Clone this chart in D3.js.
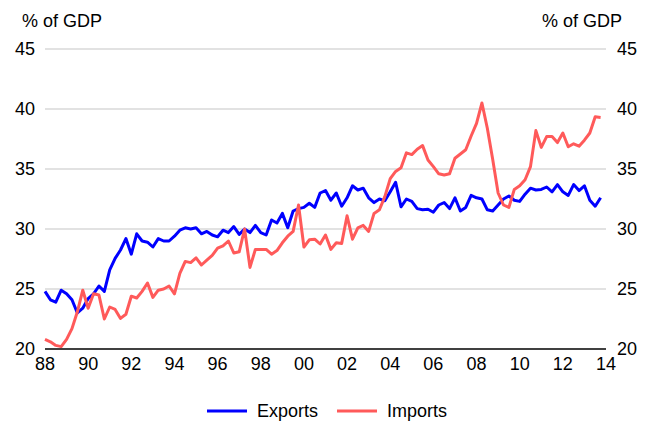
<!DOCTYPE html>
<html><head><meta charset="utf-8">
<script src="https://cdn.jsdelivr.net/npm/d3@7"></script>
<style>html,body{margin:0;padding:0;background:#fff;}svg{display:block;font-family:"Liberation Sans",Arial,sans-serif;}</style>
</head><body><svg id="c" width="657" height="422"></svg>
<script>
const startYear = 1988;
const exportsData = [24.8,24.1,23.9,24.9, 24.6,24.1,23.0,23.4, 24.2,24.6,25.25,24.8, 26.6,27.55,28.25,29.2,
 27.9,29.6,29.0,28.9, 28.5,29.2,29.0,29.0, 29.4,29.9,30.1,30.0, 30.1,29.6,29.8,29.5,
 29.35,29.9,29.7,30.2, 29.55,30.0,29.7,30.3, 29.7,29.5,30.75,30.5, 31.3,30.1,31.5,31.7,
 31.8,32.15,31.8,33.0, 33.2,32.4,33.0,31.9, 32.6,33.6,33.25,33.4, 32.6,32.2,32.5,32.35,
 33.1,33.9,31.85,32.5, 32.3,31.7,31.6,31.65, 31.4,32.0,32.2,31.7, 32.6,31.5,31.8,32.8,
 32.6,32.5,31.6,31.5, 32.0,32.5,32.75,32.4, 32.3,32.9,33.4,33.25, 33.3,33.5,33.1,33.7,
 33.1,32.8,33.7,33.2, 33.6,32.4,31.9,32.6];
const importsData = [20.8,20.6,20.3,20.2, 20.8,21.7,23.1,24.9, 23.4,24.6,24.5,22.5, 23.5,23.3,22.55,22.9,
 24.4,24.25,24.8,25.5, 24.3,24.9,25.0,25.25, 24.6,26.3,27.3,27.2, 27.6,27.0,27.4,27.8,
 28.4,28.6,29.0,28.0, 28.1,30.0,26.8,28.3, 28.3,28.3,27.9,28.2, 28.85,29.4,29.8,32.0,
 28.5,29.1,29.15,28.75, 29.5,28.3,28.85,28.8, 31.1,29.15,30.1,30.3, 29.8,31.3,31.6,32.7,
 34.2,34.8,35.1,36.35, 36.2,36.65,36.95,35.75, 35.2,34.6,34.5,34.6, 35.9,36.25,36.6,37.75,
 38.8,40.5,38.4,35.8, 33.0,32.0,31.8,33.3, 33.6,34.1,35.2,38.2, 36.8,37.7,37.7,37.2,
 38.0,36.85,37.1,36.9, 37.4,38.0,39.35,39.3];
const xTickYears = [1988,1990,1992,1994,1996,1998,2000,2002,2004,2006,2008,2010,2012,2014];
const yTicks = [20,25,30,35,40,45];
const seriesNames = ["Exports","Imports"];
const seriesColors = ["#0000ff","#ff5a5a"];

const svg = d3.select("#c");
const x = d3.scaleLinear().domain([1988,2014]).range([45,606]);
const y = d3.scaleLinear().domain([20,45]).range([349,49]);

// gridlines
svg.append("g").selectAll("line").data(yTicks.filter(d=>d>20)).join("line")
  .attr("x1",x(1988)).attr("x2",x(2014)).attr("y1",d=>y(d)).attr("y2",d=>y(d))
  .attr("stroke","#d9d9d9").attr("stroke-width",1.5);

// y labels left and right
svg.append("g").selectAll("text").data(yTicks).join("text")
  .attr("x",35).attr("y",d=>y(d)).attr("dy","0.35em").attr("text-anchor","end")
  .attr("font-size",18).attr("fill","#000").text(d=>d);
svg.append("g").selectAll("text").data(yTicks).join("text")
  .attr("x",617).attr("y",d=>y(d)).attr("dy","0.35em").attr("text-anchor","start")
  .attr("font-size",18).attr("fill","#000").text(d=>d);

// unit titles
svg.append("text").attr("x",22).attr("y",21).attr("dy","0.35em").attr("font-size",18).text("% of GDP");
svg.append("text").attr("x",622).attr("y",21).attr("dy","0.35em").attr("text-anchor","end").attr("font-size",18).text("% of GDP");

// x axis
svg.append("line").attr("x1",x(1988)).attr("x2",x(2014)).attr("y1",y(20)).attr("y2",y(20))
  .attr("stroke","#000").attr("stroke-width",1.5);
svg.append("g").selectAll("text").data(xTickYears).join("text")
  .attr("x",d=>x(d)).attr("y",364).attr("dy","0.35em").attr("text-anchor","middle")
  .attr("font-size",18).text(d=>String(d%100).padStart(2,"0"));

// lines
const line = d3.line().x((d,i)=>x(startYear+i/4)).y(d=>y(d));
[exportsData, importsData].forEach((s,k)=>{
  svg.append("path").datum(s).attr("d",line).attr("fill","none")
    .attr("stroke",seriesColors[k]).attr("stroke-width",3).attr("stroke-linejoin","round");
});

// legend
const legX = [207,337];
seriesNames.forEach((n,k)=>{
  svg.append("line").attr("x1",legX[k]).attr("x2",legX[k]+40).attr("y1",411).attr("y2",411)
    .attr("stroke",seriesColors[k]).attr("stroke-width",3);
  svg.append("text").attr("x",legX[k]+50).attr("y",411).attr("dy","0.35em").attr("font-size",18).text(n);
});
</script></body></html>
